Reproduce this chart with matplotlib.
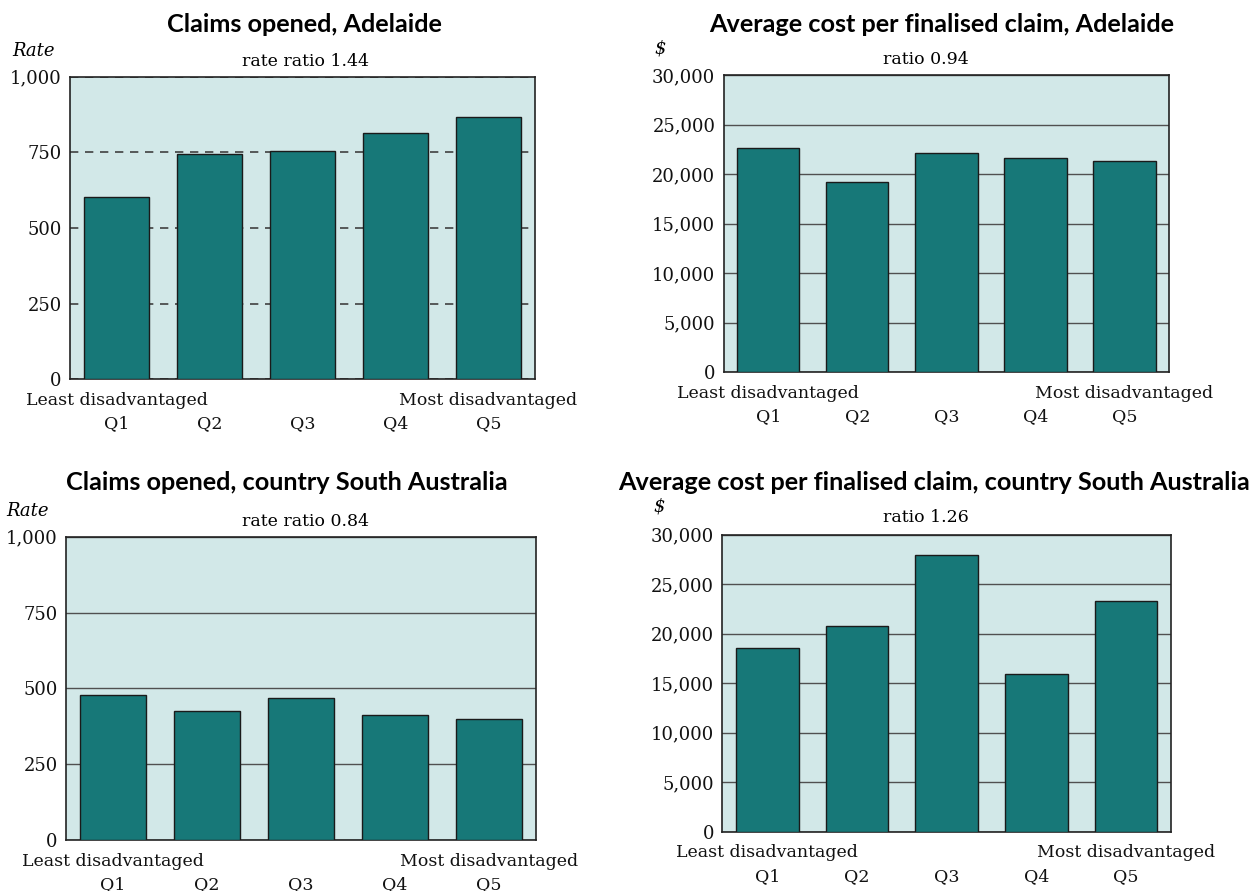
import matplotlib
matplotlib.use("Agg")
import matplotlib.pyplot as plt
import matplotlib.ticker as mticker

# Data
quintiles = ["Q1", "Q2", "Q3", "Q4", "Q5"]
adelaide_rate = [601, 744, 755, 813, 868]
adelaide_cost = [22680, 19240, 22170, 21670, 21330]
country_rate = [478, 425, 468, 412, 400]
country_cost = [18560, 20810, 27950, 15960, 23300]

titles = ["Claims opened, Adelaide",
          "Average cost per finalised claim, Adelaide",
          "Claims opened, country South Australia",
          "Average cost per finalised claim, country South Australia"]
notes = ["rate ratio 1.44", "ratio 0.94", "rate ratio 0.84", "ratio 1.26"]
units = ["Rate", "$", "Rate", "$"]
end_labels = ["Least disadvantaged", "Most disadvantaged"]

W, H = 1257, 891
BAR = "#177878"
BG = "#d2e8e8"
TICK_FONT = "DejaVu Serif"
TITLE_FONT = "Lato"

fig = plt.figure(figsize=(W / 100, H / 100), dpi=100)


def px_axes(left, right, top, bottom):
    return fig.add_axes([left / W, 1 - bottom / H, (right - left) / W, (bottom - top) / H])


def px_text(x, y, s, **kw):
    fig.text(x / W, 1 - y / H, s, **kw)


panels = [
    (adelaide_rate, (70, 535, 76.7, 379.3), 1000, 250, "dashed"),
    (adelaide_cost, (723.7, 1169, 75.3, 372), 30000, 5000, "solid"),
    (country_rate, (66, 535.6, 536.7, 840), 1000, 250, "solid"),
    (country_cost, (722.4, 1170.8, 534.7, 831.7), 30000, 5000, "solid"),
]

for i, (vals, box, ymax, step, gstyle) in enumerate(panels):
    ax = px_axes(*box)
    ax.set_facecolor(BG)
    ax.bar(range(5), vals, width=0.7, color=BAR, edgecolor="#1a1a1a", linewidth=1.0, zorder=3)
    ax.set_xlim(-0.5, 4.5)
    ax.set_ylim(0, ymax)
    ax.yaxis.set_major_locator(mticker.MultipleLocator(step))
    ax.yaxis.set_major_formatter(mticker.FuncFormatter(lambda v, p: f"{int(v):,}"))
    ax.set_xticks(range(5))
    ax.set_xticklabels(quintiles, fontfamily=TICK_FONT, fontsize=12.5)
    for lab in ax.get_yticklabels():
        lab.set_fontfamily(TICK_FONT)
        lab.set_fontsize(13)
    ax.tick_params(axis="both", length=0, colors="#111111")
    ax.tick_params(axis="y", pad=6)
    ax.tick_params(axis="x", pad=26)
    # quintile end descriptions under Q1 and Q5
    ax.annotate(end_labels[0], xy=(0, 0), xycoords=("data", "axes fraction"),
                xytext=(0, -15.2), textcoords="offset points", ha="center", va="center",
                fontfamily=TICK_FONT, fontsize=12.5, color="#111111")
    ax.annotate(end_labels[1], xy=(4, 0), xycoords=("data", "axes fraction"),
                xytext=(0, -15.2), textcoords="offset points", ha="center", va="center",
                fontfamily=TICK_FONT, fontsize=12.5, color="#111111")
    if gstyle == "dashed":
        ax.yaxis.grid(True, color="#404040", linestyle=(0, (5, 4)), linewidth=1.2)
    else:
        ax.yaxis.grid(True, color="#505050", linestyle="-", linewidth=1.0)
    ax.set_axisbelow(True)
    for sp in ax.spines.values():
        sp.set_color("#222222")
        sp.set_linewidth(1.2)

# Titles, notes and unit labels
tkw = dict(ha="center", va="center", fontfamily=TITLE_FONT, fontweight="bold", fontsize=18.2)
px_text(304, 25, titles[0], **tkw)
px_text(942, 25, titles[1], **tkw)
px_text(287, 483, titles[2], **tkw)
px_text(934, 482, titles[3], **tkw)

nkw = dict(ha="center", va="center", fontfamily=TICK_FONT, fontsize=12.5)
px_text(306, 61, notes[0], **nkw)
px_text(926, 60, notes[1], **nkw)
px_text(305, 521, notes[2], **nkw)
px_text(926, 518, notes[3], **nkw)

ukw = dict(va="center", fontfamily=TICK_FONT, fontsize=13, style="italic")
px_text(12, 51, units[0], ha="left", **ukw)
px_text(660, 49, units[1], ha="center", **ukw)
px_text(6, 511, units[2], ha="left", **ukw)
px_text(659, 507, units[3], ha="center", **ukw)

fig.savefig("out.png", dpi=100)
